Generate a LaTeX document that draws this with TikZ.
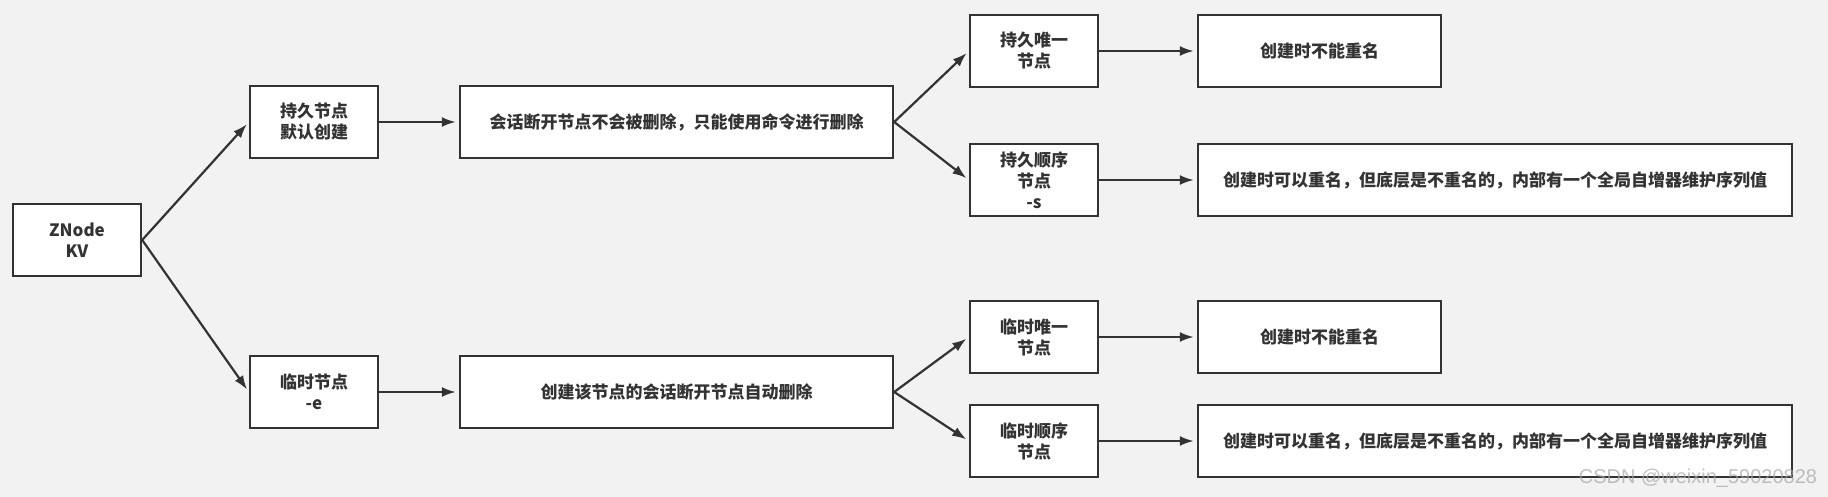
\documentclass[tikz,border=0pt]{standalone}
\usepackage{fontspec}
\usetikzlibrary{arrows.meta}
\newfontfamily\cjk{Noto Sans CJK SC}
\newfontfamily\wmfont{Liberation Sans}
\definecolor{ink}{HTML}{333333}
\definecolor{paper}{HTML}{F2F2F2}
\begin{document}
\begin{tikzpicture}[x=1pt,y=-1pt,
		box/.style={draw=ink, line width=2.4pt, fill=white, minimum height=72pt, minimum width=128pt,
			inner sep=0pt, align=center, text=ink, font=\cjk\bfseries\fontsize{17}{21}\selectfont},
		link/.style={-{Latex[length=14pt,width=10pt]}, draw=ink, line width=2.2pt, shorten >=3pt}]
			%background
			\useasboundingbox[fill=paper] (0,0) rectangle (1828,497);
			%coordinates
			\coordinate (root) at (77,240);
			\coordinate (P) at (314,122);
			\coordinate (E) at (314,392);
			%Root
			\node[box] (znode) at (root) {ZNode\\KV};
			%Persistent branch
			\node[box] (pnode) at (P) {持久节点\\默认创建};
			\node[box, minimum width=433pt] (pdesc) at (676.5,122) {会话断开节点不会被删除，只能使用命令进行删除};
			\node[box] (puniq) at (1034,51) {持久唯一\\节点};
			\node[box] (pseq) at (1034,180) {持久顺序\\节点\\-s};
			\node[box, minimum width=243pt] (prule1) at (1319.5,51) {创建时不能重名};
			\node[box, minimum width=594pt] (prule2) at (1495,180) {创建时可以重名，但底层是不重名的，内部有一个全局自增器维护序列值};
			%Ephemeral branch
			\node[box] (enode) at (E) {临时节点\\-e};
			\node[box, minimum width=433pt] (edesc) at (676.5,392) {创建该节点的会话断开节点自动删除};
			\node[box] (euniq) at (1034,337) {临时唯一\\节点};
			\node[box] (eseq) at (1034,441) {临时顺序\\节点};
			\node[box, minimum width=243pt] (erule1) at (1319.5,337) {创建时不能重名};
			\node[box, minimum width=594pt] (erule2) at (1495,441) {创建时可以重名，但底层是不重名的，内部有一个全局自增器维护序列值};
			%Arrows
			\draw[link] (znode.east) -- (pnode.west);
			\draw[link] (znode.east) -- (enode.west);
			\draw[link] (pnode) -- (pdesc);
			\draw[link] (enode) -- (edesc);
			\draw[link] (pdesc.east) -- (puniq.west);
			\draw[link] (pdesc.east) -- (pseq.west);
			\draw[link] (edesc.east) -- (euniq.west);
			\draw[link] (edesc.east) -- (eseq.west);
			\draw[link] (puniq) -- (prule1);
			\draw[link] (pseq) -- (prule2);
			\draw[link] (euniq) -- (erule1);
			\draw[link] (eseq) -- (erule2);
			%Watermark
			\node[text=gray!70, opacity=0.7, font=\wmfont\fontsize{20}{20}\selectfont] (mark) at (1698,478) {CSDN @weixin\_59020828};
		\end{tikzpicture}
\end{document}
